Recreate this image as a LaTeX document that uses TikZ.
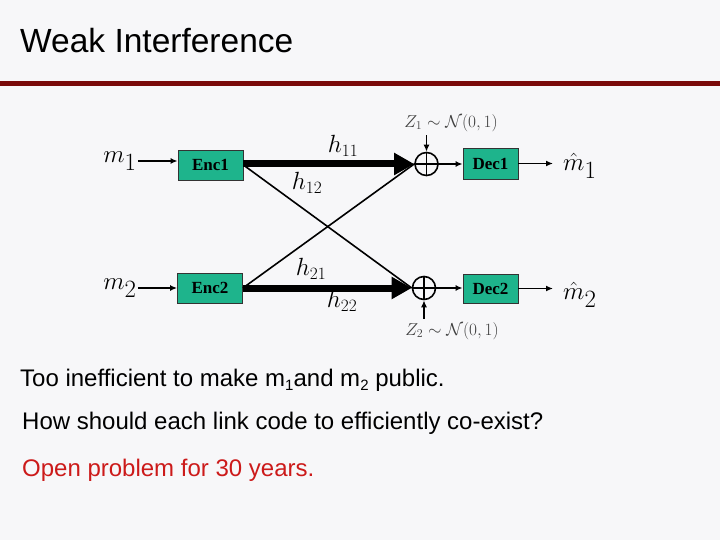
\documentclass[tikz,border=0pt]{standalone}
\usepackage{fontspec}
\setmainfont{Liberation Sans}
\newfontfamily\boxfont{Liberation Serif}
\usepackage{amsmath}
\usetikzlibrary{arrows.meta,calc}
\definecolor{bgc}{HTML}{F7F7F9}
\definecolor{barred}{HTML}{7A0A0A}
\definecolor{boxgreen}{RGB}{30,180,140}
\definecolor{openred}{HTML}{CC1A1A}
\tikzset{
  blk/.style={draw=black!80, line width=0.8pt, fill=boxgreen, inner sep=0pt, font=\boxfont\fontsize{17}{17}\selectfont\bfseries},
  adder/.style={draw, circle, line width=1.6pt, minimum size=23pt, inner sep=0pt},
  thin/.style={line width=1.6pt},
  sarrow/.style={line width=1.6pt, -{Latex[length=7pt,width=6pt]}},
  bigarrow/.style={line width=7pt, -{Triangle[length=20pt,width=21pt]}},
  mlab/.style={font=\fontsize{33}{34}\selectfont, inner sep=1pt},
  hlab/.style={font=\fontsize{23}{24}\selectfont},
  zlab/.style={font=\fontsize{18}{19}\selectfont, text=black!75},
  body/.style={font=\fontsize{24}{26}\selectfont, anchor=base west, inner sep=0pt}
}
\begin{document}
\begin{tikzpicture}[x=1pt,y=-1pt]
\fill[bgc] (0,0) rectangle (720,540);
\useasboundingbox (0,0) rectangle (720,540);
\node[anchor=base west, inner sep=0pt, font=\fontsize{33.5}{35}\selectfont] (title) at (20,53) {Weak Interference};
\fill[barred] (0,81) rectangle (720,86);

\node[blk, minimum width=65pt, minimum height=30pt] (enc1) at (210.5,165) {Enc1};
\node[blk, minimum width=65pt, minimum height=30pt] (enc2) at (210,288) {Enc2};
\node[blk, minimum width=55pt, minimum height=31pt] (dec1) at (490.5,163.5) {Dec1};
\node[blk, minimum width=55pt, minimum height=29pt] (dec2) at (490.5,288.5) {Dec2};
\node[adder] (add1) at (426.5,164) {};
\node[adder] (add2) at (424,288) {};
\draw[line width=1.6pt] (add1.north) -- (add1.south) (add1.west) -- (add1.east);
\draw[line width=1.6pt] (add2.north) -- (add2.south) (add2.west) -- (add2.east);

\node[mlab] (m1) at (120,161) {$m_1$};
\node[mlab] (m2) at (120,288) {$m_2$};
\node[mlab, anchor=west] (mh1) at (562,166) {$\hat{m}_1$};
\node[mlab, anchor=west] (mh2) at (562,295) {$\hat{m}_2$};

\node[zlab] (z1) at (451,123) {$Z_1\sim\mathcal{N}(0,1)$};
\node[zlab] (z2) at (452,331) {$Z_2\sim\mathcal{N}(0,1)$};

\node[hlab] (h11) at (343,146) {$h_{11}$};
\node[hlab] (h12) at (307,183) {$h_{12}$};
\node[hlab] (h21) at (311,269) {$h_{21}$};
\node[hlab] (h22) at (342,301) {$h_{22}$};

\draw[sarrow] (m1.east) -- (enc1.west |- m1.east);
\draw[sarrow] (m2.east) -- (enc2.west |- m2.east);
\draw[bigarrow] (enc1.east |- add1.west) -- (add1.west);
\draw[bigarrow] (enc2.east |- add2.west) -- (add2.west);
\draw[thin] (enc1.east) -- (add2.west);
\draw[thin] (enc2.east) -- (add1.west);
\draw[sarrow] (add1.east) -- (dec1.west |- add1.east);
\draw[sarrow] (add2.east) -- (dec2.west |- add2.east);
\draw[sarrow] (dec1.east) -- ([xshift=-9pt]mh1.west |- dec1.east);
\draw[sarrow] (dec2.east) -- ([xshift=-9pt]mh2.west |- dec2.east);
\draw[sarrow] (z1.south -| add1.north) -- (add1.north);
\draw[sarrow] (z2.north -| add2.south) -- (add2.south);

\node[body] (t1) at (20,386) {Too inefficient to make m\raisebox{-0.35ex}{\fontsize{15}{15}\selectfont 1}and m\raisebox{-0.35ex}{\fontsize{15}{15}\selectfont 2} public.};
\node[body] (t2) at (22,429) {How should each link code to efficiently co-exist?};
\node[body, text=openred] (t3) at (22,476) {Open problem for 30 years.};
\end{tikzpicture}
\end{document}
